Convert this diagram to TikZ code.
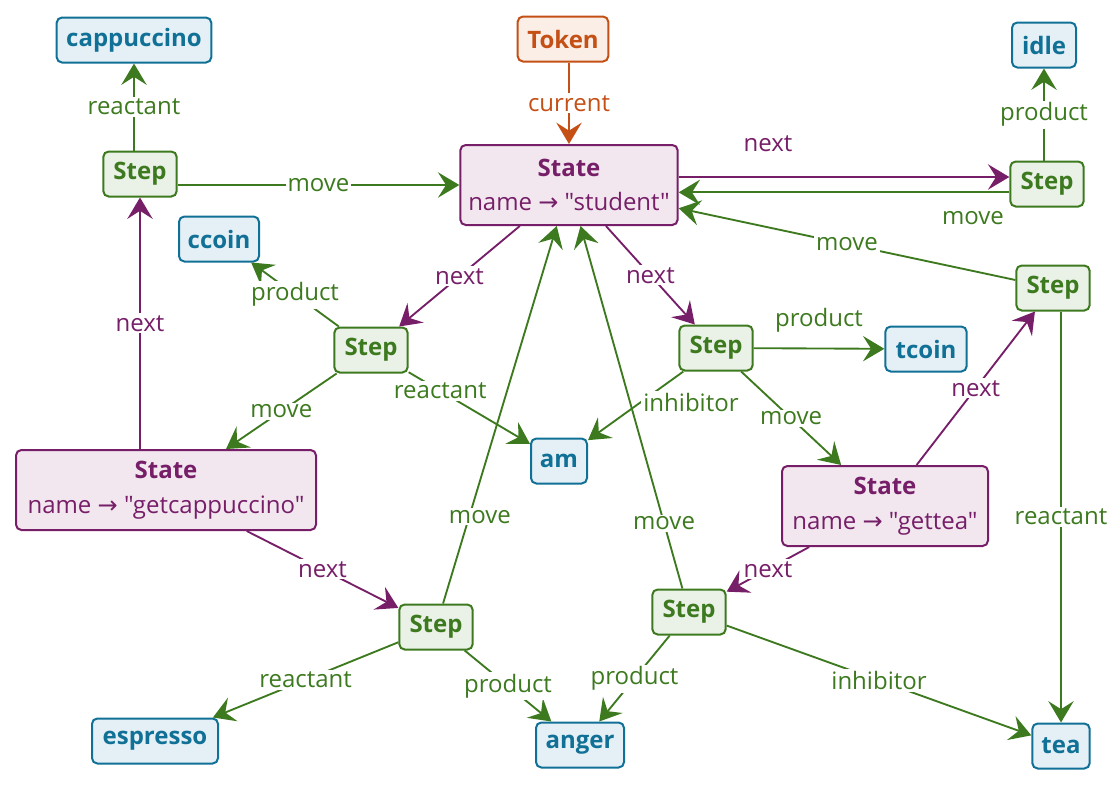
\documentclass[tikz,border=0pt]{standalone}
\usepackage{fontspec}
\setmainfont{Open Sans}[Ligatures=TeXOff]
\newfontfamily\arrfont{DejaVu Sans}
\usetikzlibrary{arrows.meta}
\definecolor{cgreen}{RGB}{61,122,31}
\definecolor{cgreenL}{RGB}{234,241,230}
\definecolor{cpurple}{RGB}{118,30,104}
\definecolor{cpurpleL}{RGB}{242,231,239}
\definecolor{cblue}{RGB}{17,112,150}
\definecolor{cblueL}{RGB}{228,240,246}
\definecolor{corange}{RGB}{196,80,22}
\definecolor{corangeL}{RGB}{251,238,230}
\newcommand{\arr}{{\arrfont →}}
\begin{document}
\begin{tikzpicture}[x=0.75pt,y=-0.75pt,
  font=\fontsize{18}{26}\selectfont,
  box/.style={draw, rounded corners=4pt, line width=1.5pt, minimum height=33.75pt,
    inner xsep=4pt, inner ysep=2pt, font=\fontsize{18}{26}\selectfont\bfseries},
  stepbox/.style={box, draw=cgreen, fill=cgreenL, text=cgreen, minimum width=55pt},
  res/.style={box, draw=cblue, fill=cblueL, text=cblue},
  tokbox/.style={box, draw=corange, fill=corangeL, text=corange},
  statebox/.style={draw=cpurple, fill=cpurpleL, text=cpurple, rounded corners=4pt,
    line width=1.5pt, minimum height=60pt, align=center, inner xsep=4pt,
    font=\fontsize{18}{26}\selectfont},
  conn/.style={line width=1.4pt, -{Stealth[length=16pt,width=19pt,inset=6pt]}},
  ge/.style={conn, color=cgreen},
  pe/.style={conn, color=cpurple},
  oe/.style={conn, color=corange},
  lbl/.style={fill=white, inner sep=1.5pt}
]
\useasboundingbox (0,0) rectangle (1118,785);

% nodes
\node[res, minimum width=116pt] (cappuccino) at (134,40) {cappuccino};
\node[tokbox, minimum width=68pt] (token) at (563,39) {Token};
\node[res, minimum width=48pt] (idle) at (1044,45) {idle};
\node[statebox, minimum width=163pt] (student) at (569,185) {{\bfseries State}\\name \arr{} "student"};
\node[stepbox] (s1) at (140,174) {Step};
\node[res, minimum width=60pt] (ccoin) at (219,239) {ccoin};
\node[stepbox] (stTR) at (1047,184) {Step};
\node[stepbox] (stR) at (1053,288) {Step};
\node[stepbox] (stC) at (371,350) {Step};
\node[stepbox] (stT) at (716,348) {Step};
\node[res, minimum width=61pt] (tcoin) at (926,349) {tcoin};
\node[res, minimum width=42pt] (am) at (559,461) {am};
\node[statebox, minimum width=225pt] (getcap) at (166,490) {{\bfseries State}\\name \arr{} "getcappuccino"};
\node[statebox, minimum width=154.5pt] (gettea) at (885,506) {{\bfseries State}\\name \arr{} "gettea"};
\node[stepbox] (stBL) at (436,627) {Step};
\node[stepbox] (stBM) at (689,612) {Step};
\node[res, minimum width=94.5pt] (espresso) at (155,741) {espresso};
\node[res, minimum width=66pt] (anger) at (580,745) {anger};
\node[res, minimum width=43pt] (tea) at (1061,746) {tea};

% connectors
\draw[ge] (cappuccino.south |- s1.north) -- (cappuccino.south) node[lbl,midway]{reactant};
\draw[oe] (token.south -| student.north) -- (student.north) node[lbl,midway]{current};
\draw[ge] (s1.east |- student.west) -- (student.west) node[lbl,midway]{move};
\draw[pe] ([yshift=6pt]student.east) -- ([yshift=6pt]student.east -| stTR.west) node[lbl,pos=0.27,yshift=25pt]{next};
\draw[ge] ([yshift=-5.5pt]student.east -| stTR.west) -- ([yshift=-5.5pt]student.east) node[lbl,pos=0.11,yshift=-19pt]{move};
\draw[ge] (idle.south |- stTR.north) -- (idle.south) node[lbl,midway]{product};
\draw[ge] (stR) -- (student) node[lbl,midway]{move};
\draw[pe] (student) -- (stC) node[lbl,midway]{next};
\draw[ge] (stC) -- (ccoin) node[lbl,midway]{product};
\draw[ge] (stC) -- (getcap) node[lbl,midway]{move};
\draw[ge] (stC) -- (am) node[lbl,pos=0.26]{reactant};
\draw[pe] (getcap.north -| s1.south) -- (s1.south) node[lbl,midway]{next};
\draw[pe] (student) -- (stT) node[lbl,midway]{next};
\draw[ge] (stT) -- (tcoin) node[lbl,midway,yshift=21pt]{product};
\draw[ge] (stT) -- (am) node[lbl,pos=0.45,anchor=west]{inhibitor};
\draw[ge] (stT) -- (gettea) node[lbl,midway]{move};
\draw[pe] (gettea) -- (stR) node[lbl,midway]{next};
\draw[ge] (stR.south -| tea.north) -- (tea.north) node[lbl,midway]{reactant};
\draw[pe] (getcap) -- (stBL) node[lbl,midway]{next};
\draw[ge] (stBL) -- (student) node[lbl,pos=0.23,xshift=8pt]{move};
\draw[ge] (stBL) -- (espresso) node[lbl,midway]{reactant};
\draw[ge] (stBL) -- (anger) node[lbl,midway]{product};
\draw[pe] (gettea) -- (stBM) node[lbl,midway]{next};
\draw[ge] (stBM) -- (student) node[lbl,pos=0.18]{move};
\draw[ge] (stBM) -- (anger) node[lbl,midway]{product};
\draw[ge] (stBM) -- (tea) node[lbl,midway]{inhibitor};
\end{tikzpicture}
\end{document}
